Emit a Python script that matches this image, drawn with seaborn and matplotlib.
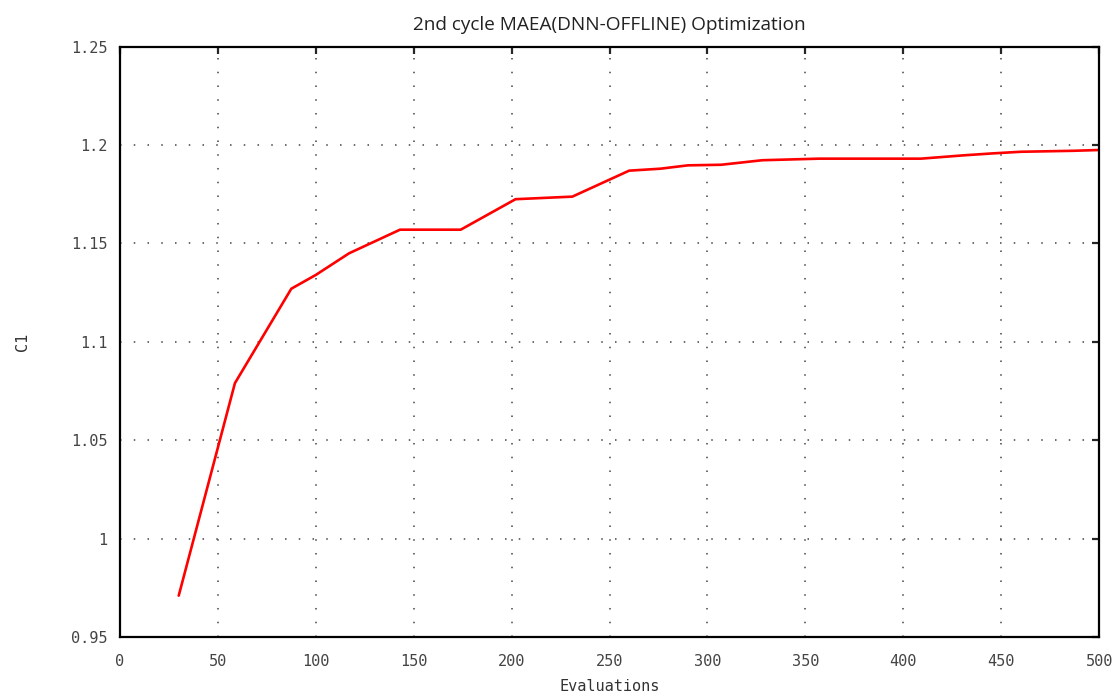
import matplotlib
matplotlib.use("Agg")
import matplotlib.pyplot as plt
import seaborn as sns
import pandas as pd

# values
evaluations = [30, 58.7, 87.5, 100, 117, 143, 174, 202, 231, 260, 276, 290, 307, 328, 357, 409, 431, 446, 460, 487, 500]
c1 = [0.971, 1.079, 1.127, 1.134, 1.145, 1.157, 1.157, 1.1725, 1.1738, 1.187, 1.188, 1.1897, 1.190, 1.1923, 1.1931, 1.1931, 1.1948, 1.1958, 1.1966, 1.1971, 1.1975]
x_ticks = [0, 50, 100, 150, 200, 250, 300, 350, 400, 450, 500]
y_ticks = [0.95, 1.0, 1.05, 1.1, 1.15, 1.2, 1.25]
y_tick_labels = ["0.95", "1", "1.05", "1.1", "1.15", "1.2", "1.25"]

df = pd.DataFrame({"Evaluations": evaluations, "C1": c1})

sns.set_style("white")
plt.rcParams["font.family"] = ["DejaVu Sans Mono"]

fig = plt.figure(figsize=(11.17, 6.95), dpi=100)
ax = fig.add_axes([0.1074, 0.0835, 0.8766, 0.8493])

sns.lineplot(data=df, x="Evaluations", y="C1", ax=ax, color="#ff0000", linewidth=1.9)

ax.set_xlim(0, 500)
ax.set_ylim(0.95, 1.25)
ax.set_xticks(x_ticks)
ax.set_yticks(y_ticks)
ax.set_yticklabels(y_tick_labels)
ax.grid(True, color="#444444", linestyle=(0, (1, 8)), linewidth=1.1)

for s in ax.spines.values():
    s.set_color("black")
    s.set_linewidth(1.6)

ax.tick_params(direction="in", length=5, width=1.6, top=True, right=True,
               labeltop=False, labelright=False, labelsize=11, labelcolor="#444444")
ax.tick_params(axis="x", pad=12)
ax.tick_params(axis="y", pad=9)

ax.set_xlabel("Evaluations", fontsize=11, color="#333333")
ax.xaxis.set_label_coords(0.5, -0.072)
ax.set_ylabel("C1", fontsize=11, color="#333333")
ax.yaxis.set_label_coords(-0.092, 0.5)
ax.set_title("2nd cycle MAEA(DNN-OFFLINE) Optimization", fontsize=13.7,
             family=["Open Sans", "DejaVu Sans"], color="#222222", pad=12)

fig.savefig("out.png", dpi=100)
